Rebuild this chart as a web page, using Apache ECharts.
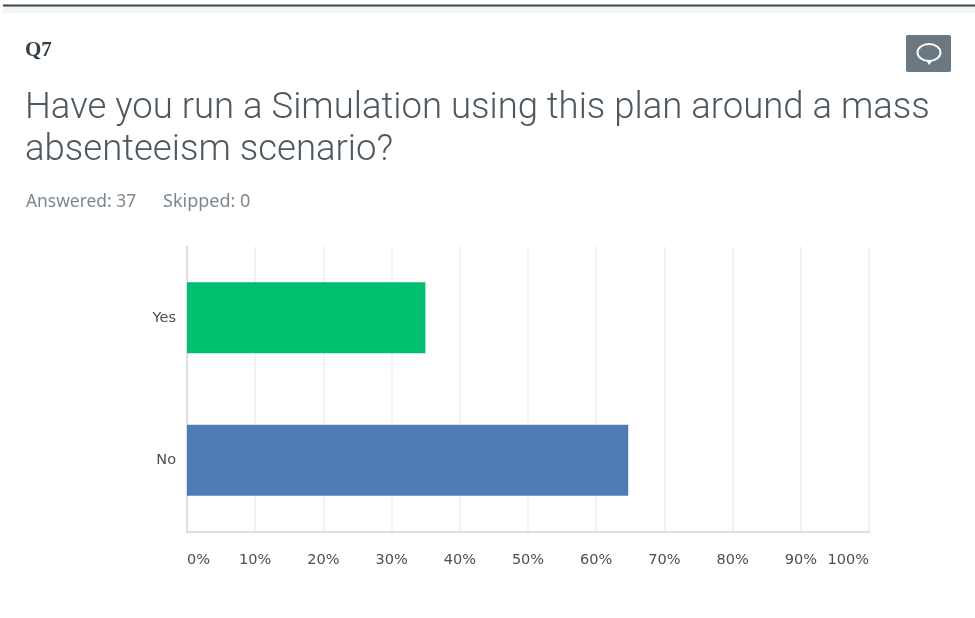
<!DOCTYPE html>
<html><head><meta charset="utf-8">
<style>html,body{margin:0;padding:0;background:#fff}#c{width:975px;height:618px}</style>
<script src="https://cdn.jsdelivr.net/npm/echarts@6/dist/echarts.min.js"></script>
</head><body><div id="c"></div>
<script>
const categories = ['No', 'Yes'];
const values = [64.7, 34.95];
const barColors = ['#4f7cb5', '#00bf6f'];
const questionId = 'Q7';
const titleLines = ['Have you run a Simulation using this plan around a mass', 'absenteeism scenario?'];
const answered = 'Answered: 37';
const skipped = 'Skipped: 0';

const chart = echarts.init(document.getElementById('c'), null, {renderer: 'canvas'});
chart.setOption({
  animation: false,
  backgroundColor: '#fff',
  grid: {left: 187, right: 106, top: 246.5, bottom: 86.5},
  xAxis: {
    type: 'value', min: 0, max: 100, interval: 10,
    axisLine: {show: true, lineStyle: {color: '#dedede', width: 2}},
    axisTick: {show: false},
    splitLine: {show: true, lineStyle: {color: '#f3f3f3', width: 2}},
    axisLabel: {formatter: '{value}%', color: '#4a4f52', fontSize: 14.5, fontFamily: 'DejaVu Sans', margin: 21, alignMinLabel: 'left', alignMaxLabel: 'right'}
  },
  yAxis: {
    type: 'category', data: categories,
    axisLine: {show: true, onZero: false, lineStyle: {color: '#dedede', width: 2}},
    axisTick: {show: false},
    axisLabel: {color: '#4a4f52', fontSize: 14.5, fontFamily: 'DejaVu Sans', margin: 11, padding: [6, 0, 0, 0]}
  },
  series: [{
    type: 'bar', barWidth: 71,
    data: values.map((v, i) => ({value: v, itemStyle: {color: barColors[i]}}))
  }],
  graphic: [
    {type: 'rect', shape: {x: 3, y: 6, width: 972, height: 7}, style: {fill: '#f3f5f5'}},
    {type: 'rect', shape: {x: 3, y: 4.5, width: 972, height: 2}, style: {fill: '#3a4552'}},
    {type: 'text', x: 25, y: 40, style: {text: questionId, font: 'bold 21px "Liberation Serif"', fill: '#333e48'}},
    {type: 'rect', shape: {x: 906, y: 35, width: 45, height: 37, r: 2}, style: {fill: '#6b7881'}},
    {type: 'ellipse', shape: {cx: 929, cy: 52.5, rx: 11.5, ry: 8.5}, style: {fill: 'none', stroke: '#fff', lineWidth: 2}},
    {type: 'polygon', shape: {points: [[926, 60], [933, 60], [929, 65]]}, style: {fill: '#fff'}},
    {type: 'text', x: 25, y: 90, style: {text: titleLines[0], font: '300 36.5px Roboto', fill: '#4d5860'}},
    {type: 'text', x: 25, y: 132, style: {text: titleLines[1], font: '300 36.5px Roboto', fill: '#4d5860'}},
    {type: 'text', x: 26, y: 194, style: {text: answered, font: '17.4px "Noto Sans"', fill: '#7d878e'}},
    {type: 'text', x: 163, y: 193, style: {text: skipped, font: '18px "Noto Sans"', fill: '#7d878e'}}
  ]
});
</script></body></html>
